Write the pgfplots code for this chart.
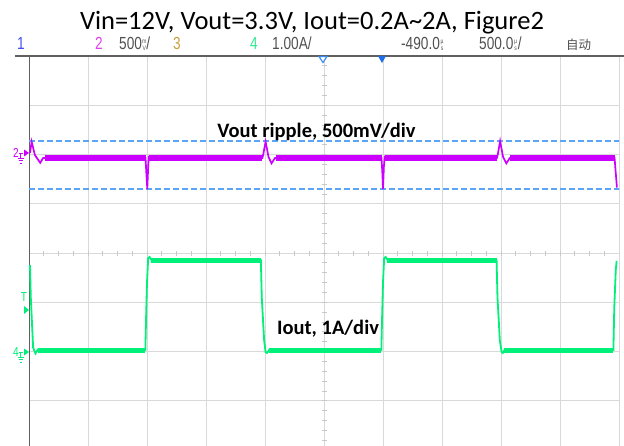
\documentclass[border=0pt]{standalone}
\usepackage{pgfplots}
\pgfplotsset{compat=1.18}
\usepackage{fontspec}
\setmainfont{Carlito}
\newfontfamily\scopefont[FakeStretch=0.78]{Liberation Sans}
\newfontfamily\cjk{Noto Sans CJK SC}
\definecolor{gridc}{HTML}{D9D9D9}
\definecolor{tickc}{HTML}{C8C8C8}
\definecolor{magc}{HTML}{CC00FF}
\definecolor{grnc}{HTML}{00F07A}
\definecolor{curc}{HTML}{5AA5F5}
\definecolor{axc}{HTML}{606060}
\definecolor{hdr}{HTML}{505050}
\definecolor{ch1}{HTML}{4050F0}
\definecolor{ch2}{HTML}{E040F0}
\definecolor{ch3}{HTML}{C8A040}
\definecolor{ch4}{HTML}{30E890}
\definecolor{trig}{HTML}{3C8CF0}
\definecolor{trigf}{HTML}{1E6EE6}
\newcommand\stk[2]{{\fontsize{6.5}{6.5}\selectfont\makebox[4.5pt][c]{\makebox[0pt][c]{\raisebox{6pt}{#1}}\makebox[0pt][c]{\raisebox{-1pt}{#2}}}}}
\begin{document}
\begin{tikzpicture}
\useasboundingbox (0pt,0pt) rectangle (624pt,-446pt);
% title
\node[anchor=base,inner sep=0pt] at (312pt,-30pt) {\fontsize{26.5}{30}\selectfont Vin=12V, Vout=3.3V, Iout=0.2A\textasciitilde 2A, Figure2};
% header
\begin{scope}[every node/.style={anchor=base west,inner sep=0pt,font=\scopefont\fontsize{17.5}{19}\selectfont}]
\node[text=ch1] at (17pt,-50pt) {1};
\node[text=ch2] at (95pt,-50pt) {2};
\node[text=hdr] at (119pt,-50pt) {500\stk{m}{V}/};
\node[text=ch3] at (173pt,-50pt) {3};
\node[text=ch4] at (250pt,-50pt) {4};
\node[text=hdr] at (272pt,-50pt) {1.00A/};
\node[text=hdr] at (401pt,-50pt) {-490.0\stk{µ}{s}};
\node[text=hdr] at (479pt,-50pt) {500.0\stk{µ}{s}/};
\node[text=hdr,font=\cjk\fontsize{12.5}{14}\selectfont] at (566pt,-50pt) {自动};
\end{scope}
\begin{axis}[at={(29pt,-450pt)}, anchor=south west,
  width=590pt, height=394pt, scale only axis,
  xmin=0, xmax=10, ymin=-4, ymax=4,
  xtick={0,...,10}, ytick={-4,...,4},
  xticklabels={}, yticklabels={},
  tick style={draw=none},
  grid=major, major grid style={draw=gridc, line width=1pt},
  axis line style={draw=none}]
% minor ticks on centre lines
\pgfplotsinvokeforeach{0.25,0.5,...,9.8}{\draw[tickc,line width=0.8pt] (axis cs:#1,0) ++(0pt,-2.5pt) -- ++(0pt,5pt);}
\pgfplotsinvokeforeach{-3.8,-3.6,...,3.9}{\draw[tickc,line width=0.8pt] (axis cs:5,#1) ++(-2.5pt,0pt) -- ++(5pt,0pt);}
\draw[axc,line width=2pt] (axis cs:0,-4.2) -- (axis cs:0,4);
% cursors
\addplot[curc, line width=1.4pt, dash pattern=on 6pt off 3pt] coordinates {(0,2.274) (10.2,2.274)};
\addplot[curc, line width=1.4pt, dash pattern=on 6pt off 3pt] coordinates {(0,1.30) (10.2,1.30)};
% Vout ripple (channel 2)
\addplot[magc, line width=1.7pt] coordinates {
(0.017,2.03) (0.045,2.26) (0.10,1.99) (0.19,1.83) (0.24,1.93)
(1.975,1.93) (1.99,1.60) (2.005,1.30) (2.02,1.75) (2.03,1.95) (2.06,1.93)
(3.955,1.93) (3.97,2.00) (4.01,2.26) (4.06,1.95) (4.11,1.82) (4.17,1.93)
(5.975,1.93) (5.99,1.60) (6.000,1.30) (6.015,1.75) (6.03,1.95) (6.06,1.93)
(7.93,1.93) (7.945,2.00) (7.985,2.27) (8.035,1.95) (8.09,1.82) (8.15,1.93)
(9.925,1.93) (9.94,1.70) (9.965,1.33)};
\addplot[magc, line width=6pt] coordinates {(0.27,1.93) (1.975,1.93)};
\addplot[magc, line width=6pt] coordinates {(2.04,1.93) (3.955,1.93)};
\addplot[magc, line width=6pt] coordinates {(4.18,1.93) (5.975,1.93)};
\addplot[magc, line width=6pt] coordinates {(6.04,1.93) (7.93,1.93)};
\addplot[magc, line width=6pt] coordinates {(8.16,1.93) (9.925,1.93)};
% Iout (channel 4)
\addplot[grnc, line width=1.8pt] coordinates {
(0.017,-0.24) (0.03,-0.89) (0.07,-1.92) (0.11,-2.04) (0.15,-1.96) (0.2,-1.97)
(1.972,-1.97) (1.985,-1.30) (2.0,-0.60) (2.02,-0.10) (2.045,-0.08) (2.08,-0.15)
(3.93,-0.15) (3.945,-0.89) (3.985,-1.77) (4.01,-2.01) (4.035,-2.03) (4.07,-1.97)
(5.972,-1.97) (5.985,-1.30) (6.0,-0.60) (6.02,-0.10) (6.045,-0.08) (6.08,-0.15)
(7.925,-0.15) (7.94,-0.89) (7.98,-1.77) (8.01,-2.01) (8.03,-2.03) (8.06,-1.97)
(9.905,-1.97) (9.92,-1.10) (9.945,-0.35) (9.96,-0.16)};
\addplot[grnc, line width=5pt] coordinates {(0.15,-1.97) (1.972,-1.97)};
\addplot[grnc, line width=5pt] coordinates {(2.07,-0.152) (3.93,-0.152)};
\addplot[grnc, line width=5pt] coordinates {(4.06,-1.97) (5.972,-1.97)};
\addplot[grnc, line width=5pt] coordinates {(6.07,-0.152) (7.925,-0.152)};
\addplot[grnc, line width=5pt] coordinates {(8.05,-1.97) (9.905,-1.97)};
\end{axis}
% header separator
\draw[axc,line width=1.3pt] (15pt,-56pt) -- (624pt,-56pt);
% trigger markers at top
\draw[trig,line width=1.2pt,fill=white] (319pt,-56.5pt) -- (327pt,-56.5pt) -- (323pt,-62.5pt) -- cycle;
\fill[trigf] (378pt,-56pt) -- (386pt,-56pt) -- (382pt,-63pt) -- cycle;
% labels
\node[anchor=base,inner sep=0pt] at (316.5pt,-138pt) {\fontsize{20.5}{24}\selectfont\bfseries Vout ripple, 500mV/div};
\node[anchor=base,inner sep=0pt] at (328pt,-335pt) {\fontsize{20.5}{24}\selectfont\bfseries Iout, 1A/div};
% channel 2 marker
\node[text=magc,inner sep=0pt,font=\scopefont\fontsize{13}{14}\selectfont] at (16pt,-153pt) {2};
\draw[magc,line width=0.8pt] (18.5pt,-153pt) -- (23pt,-153pt) (20.5pt,-153pt) -- (20.5pt,-158pt)
  (17.5pt,-158pt) -- (23.5pt,-158pt) (18.5pt,-160.5pt) -- (22.5pt,-160.5pt) (19.5pt,-163pt) -- (21.5pt,-163pt);
\fill[magc] (24pt,-149.5pt) -- (29pt,-153pt) -- (24pt,-156.5pt) -- cycle;
% trigger level marker
\node[text=grnc,inner sep=0pt,font=\scopefont\fontsize{13}{14}\selectfont] at (24pt,-297pt) {T};
\fill[grnc] (24pt,-306pt) -- (29pt,-310pt) -- (24pt,-314pt) -- cycle;
% channel 4 marker
\node[text=grnc,inner sep=0pt,font=\scopefont\fontsize{13}{14}\selectfont] at (16pt,-352pt) {4};
\draw[grnc,line width=0.8pt] (18.5pt,-352pt) -- (23pt,-352pt) (20.5pt,-352pt) -- (20.5pt,-357pt)
  (17.5pt,-357pt) -- (23.5pt,-357pt) (18.5pt,-359.5pt) -- (22.5pt,-359.5pt) (19.5pt,-362pt) -- (21.5pt,-362pt);
\fill[grnc] (24pt,-348.5pt) -- (29pt,-352pt) -- (24pt,-355.5pt) -- cycle;
\end{tikzpicture}
\end{document}
